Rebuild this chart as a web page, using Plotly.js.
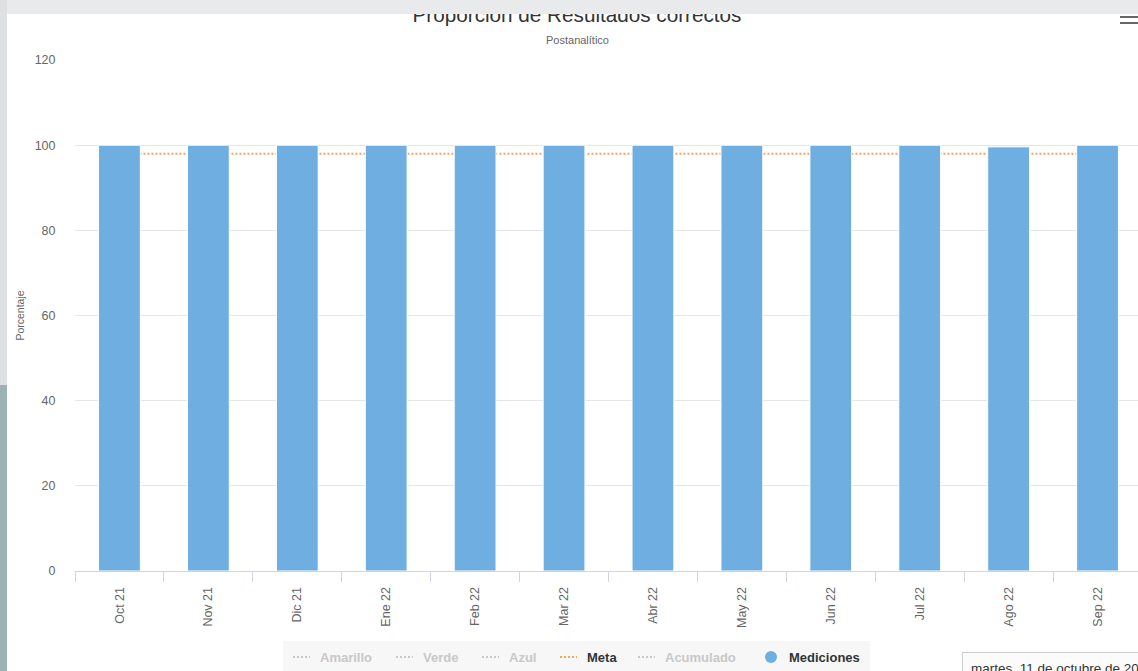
<!DOCTYPE html>
<html>
<head>
<meta charset="utf-8">
<script src="https://cdn.plot.ly/plotly-3.0.1.min.js"></script>
<style>
  html, body { margin:0; padding:0; width:1138px; height:671px; overflow:hidden; background:#e9eaeb; }
  #stripTop { position:absolute; left:0; top:0; width:7px; height:385px; background:#dfe0e2; }
  #stripBot { position:absolute; left:0; top:385px; width:7px; height:286px; background:#9db3b3; }
  #frame { position:absolute; left:7px; top:14px; width:1131px; height:657px; overflow:hidden; background:#fff; }
  #chart { position:absolute; left:-7px; top:-14px; width:1154px; height:671px; }
  .burger { position:absolute; left:1120px; width:20px; height:2px; background:#666; }
</style>
</head>
<body>
<div id="stripTop"></div>
<div id="stripBot"></div>
<div id="frame"><div id="chart"></div></div>
<div class="burger" style="top:16px"></div>
<div class="burger" style="top:22px"></div>
<script>
// ---- data ----
const categories = ["Oct 21","Nov 21","Dic 21","Ene 22","Feb 22","Mar 22","Abr 22","May 22","Jun 22","Jul 22","Ago 22","Sep 22"];
const mediciones = [100,100,100,100,100,100,100,100,100,100,99.6,100];
const meta = [98,98,98,98,98,98,98,98,98,98,98,98];
const yTicks = [0,20,40,60,80,100,120];
const legendLabels = ["Amarillo","Verde","Azul","Meta","Acumulado","Mediciones"];
const legendVisible = [false,false,false,true,false,true];
const titleText = "Proporción de Resultados correctos";
const subtitleText = "Postanalítico";
const yTitle = "Porcentaje";
const tooltipText = "martes, 11 de octubre de 2022";

// ---- layout constants ----
const FONT = "Liberation Sans, Arial, sans-serif";
const W = 1154, H = 671, L = 75, R = 12, T = 60, B = 100;
const PW = W - L - R, PH = H - T - B;
const px = x => (x - L) / PW;
const py = y => (T + PH - y) / PH;
const BLUE = '#6faee0', ORANGE = '#f7a35c', HIDDEN = '#c8c8c8';
const legendTextX = [318, 421, 507, 585, 663, 787];
const legendY = 657;

const traces = [
  { type:'scatter', mode:'lines', name:'Meta', x:categories, y:meta,
    line:{color:ORANGE, dash:'2px,2px', width:2}, xaxis:'x', yaxis:'y', hoverinfo:'y' },
  { type:'bar', name:'Mediciones', x:categories, y:mediciones, width:0.47,
    marker:{color:BLUE, line:{color:'#ffffff', width:1}}, xaxis:'x2', yaxis:'y2' }
];

const shapes = [
  {type:'rect', xref:'paper', yref:'paper', x0:px(283), x1:px(870), y0:py(641), y1:py(690),
   fillcolor:'#f7f7f7', line:{width:0}, layer:'below'}
];
const annotations = [
  {text:subtitleText, xref:'paper', x:px(577), xanchor:'center', yref:'paper', y:py(40), yanchor:'middle',
   showarrow:false, font:{family:FONT, size:11, color:'#666666'}},
  {text:tooltipText, xref:'paper', x:px(962), xanchor:'left', yref:'paper', y:py(652), yanchor:'top',
   showarrow:false, bgcolor:'#fbfbfb', bordercolor:'#cccccc', borderwidth:1, borderpad:8, align:'left',
   font:{family:FONT, size:13.5, color:'#333333'}}
];
legendLabels.forEach((lab, i) => {
  const vis = legendVisible[i];
  const tx = legendTextX[i];
  if (lab === 'Mediciones') {
    shapes.push({type:'circle', xref:'paper', yref:'paper', x0:px(tx-22), x1:px(tx-10), y0:py(legendY+6), y1:py(legendY-6),
      fillcolor:BLUE, line:{width:0}});
  } else {
    shapes.push({type:'line', xref:'paper', yref:'paper', x0:px(tx-25), x1:px(tx-8), y0:py(legendY), y1:py(legendY),
      line:{color: vis ? ORANGE : HIDDEN, width:2, dash:'2px,2px'}});
  }
  annotations.push({text:'<b>'+lab+'</b>', xref:'paper', x:px(tx), xanchor:'left', yref:'paper', y:py(legendY), yanchor:'middle',
    showarrow:false, font:{family:FONT, size:13, color: vis ? '#333333' : HIDDEN}});
});

const axisCommon = { type:'category', categoryarray:categories, range:[-0.5, categories.length-0.5] };

const layout = {
  width:W, height:H,
  margin:{l:L, r:R, t:T, b:B, pad:0},
  paper_bgcolor:'#ffffff', plot_bgcolor:'#ffffff',
  font:{family:FONT, color:'#666666', size:12},
  title:{text:titleText, font:{family:FONT, size:20.7, color:'#333333'}, x:0.5, xref:'container', xanchor:'center',
         y:1-14.5/H, yref:'container', yanchor:'middle'},
  showlegend:false,
  xaxis:Object.assign({}, axisCommon, {
    tickangle:-90, tickson:'boundaries', ticks:'outside', ticklen:10, tickcolor:'#ccd6eb', tickwidth:1,
    ticklabelstandoff:10,
    showline:true, linecolor:'#ccd6eb', linewidth:1, showgrid:false, zeroline:false, automargin:false,
    tickfont:{family:FONT, size:12.5, color:'#666666'}, fixedrange:true
  }),
  yaxis:{
    range:[0,120], tickvals:yTicks, showgrid:true, gridcolor:'#e6e6e6', gridwidth:1, zeroline:false,
    showline:false, ticks:'outside', ticklen:16, tickcolor:'rgba(0,0,0,0)', automargin:false,
    tickfont:{family:FONT, size:12.5, color:'#666666'},
    title:{text:yTitle, font:{family:FONT, size:10.5, color:'#666666'}, standoff:7}, fixedrange:true
  },
  xaxis2:Object.assign({}, axisCommon, {overlaying:'x', visible:false, fixedrange:true}),
  yaxis2:{range:[0,120], overlaying:'y', visible:false, fixedrange:true},
  shapes:shapes,
  annotations:annotations
};

Plotly.newPlot('chart', traces, layout, {displayModeBar:false});
</script>
</body>
</html>
